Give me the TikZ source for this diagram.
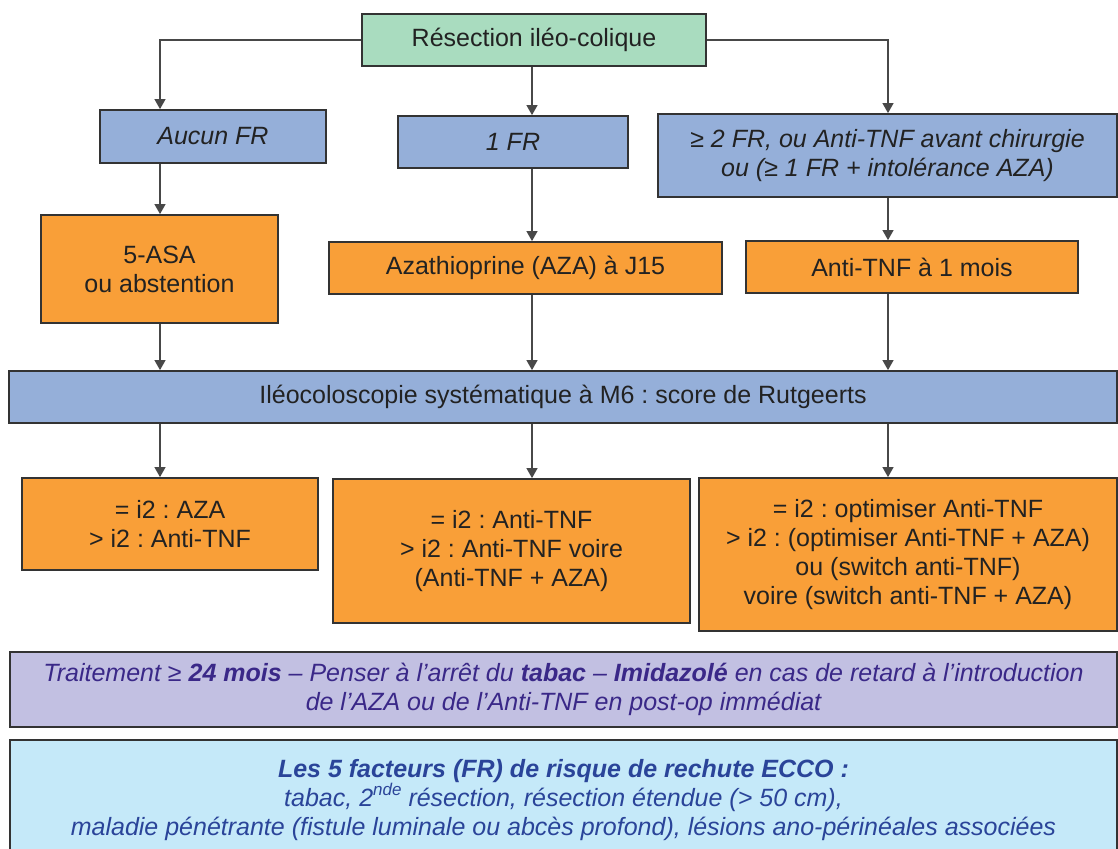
\documentclass[tikz,border=0pt]{standalone}
\usepackage{fontspec}
\setmainfont{Liberation Sans}
\usetikzlibrary{arrows.meta,positioning}
\frenchspacing

\definecolor{vert}{HTML}{A9DCBF}
\definecolor{bleu}{HTML}{95AFD9}
\definecolor{orangebox}{HTML}{F99F38}
\definecolor{violet}{HTML}{C2C0E2}
\definecolor{ciel}{HTML}{C5E9F9}
\definecolor{trait}{HTML}{333333}
\definecolor{gris}{HTML}{484848}
\definecolor{texte}{HTML}{222222}
\definecolor{textviolet}{HTML}{3A2888}
\definecolor{textbleu}{HTML}{2A4499}

\newcommand{\expo}[1]{\raisebox{0.45em}{\fontsize{17}{17}\selectfont #1}}

\tikzset{
  box/.style={draw=trait, line width=1.8pt, inner sep=0pt, align=center,
    text=texte, font=\fontsize{25}{29}\selectfont},
  fleche/.style={draw=gris, line width=1.1pt, -{Triangle[width=11pt,length=10pt]}},
}

\begin{document}
\begin{tikzpicture}[x=1pt,y=-1pt]
  \useasboundingbox (0,0) rectangle (1118,848);
% first row
  \node[box, fill=vert, minimum width=344, minimum height=52] (resection) at (534,40) {Résection iléo-colique};
  \node[box, fill=bleu, minimum width=226, minimum height=53] (aucun) at (213,136.5) {\itshape Aucun FR};
  \node[box, fill=bleu, minimum width=230, minimum height=52] (unfr) at (513,142) {\itshape 1 FR};
  \node[box, fill=bleu, minimum width=459, minimum height=83] (deuxfr) at (887.5,155.5)
    {\itshape ≥ 2 FR, ou Anti-TNF avant chirurgie\\\itshape ou (≥ 1 FR + intolérance AZA)};
% treatments
  \node[box, fill=orangebox, minimum width=237, minimum height=108] (asa) at (159.5,269) {5-ASA\\ou abstention};
  \node[box, fill=orangebox, minimum width=393, minimum height=52] (aza) at (525.5,268) {Azathioprine (AZA) à J15};
  \node[box, fill=orangebox, minimum width=332, minimum height=52] (tnf) at (912,267) {Anti-TNF à 1 mois};
% endoscopy
  \node[box, fill=bleu, minimum width=1108, minimum height=52] (ileo) at (563,397)
    {Iléocoloscopie systématique à M6 : score de Rutgeerts};
  \node[box, fill=orangebox, minimum width=296, minimum height=92] (resa) at (170,524)
    {= i2 : AZA\\> i2 : Anti-TNF};
  \node[box, fill=orangebox, minimum width=357, minimum height=144] (resb) at (511.5,551)
    {= i2 : Anti-TNF\\> i2 : Anti-TNF voire\\(Anti-TNF + AZA)};
  \node[box, fill=orangebox, minimum width=418, minimum height=153] (resc) at (908,554.5)
    {= i2 : optimiser Anti-TNF\\> i2 : (optimiser Anti-TNF + AZA)\\ou (switch anti-TNF)\\voire (switch anti-TNF + AZA)};
% notes
  \node[box, fill=violet, text=textviolet, minimum width=1107, minimum height=75] (duree) at (563.5,689.5)
    {\itshape Traitement ≥ {\bfseries 24 mois} – Penser à l’arrêt du {\bfseries tabac} – {\bfseries Imidazolé} en cas de retard à l’introduction\\
     \itshape de l’AZA ou de l’Anti-TNF en post-op immédiat};
  \node[box, fill=ciel, text=textbleu, minimum width=1107, minimum height=120] (facteurs) at (563.5,800)
    {\bfseries\itshape Les 5 facteurs (FR) de risque de rechute ECCO :\\
     \itshape tabac, 2\expo{nde} résection, résection étendue (> 50 cm),\\
     \itshape maladie pénétrante (fistule luminale ou abcès profond), lésions ano-périnéales associées};
% connectors
  \coordinate (gauche) at (160,0);
  \coordinate (milieu) at (532,0);
  \coordinate (droite) at (888,0);
  \draw[fleche] (resection.west) -| (aucun.north -| gauche);
  \draw[fleche] (resection.south -| milieu) -- (unfr.north -| milieu);
  \draw[fleche] (resection.east) -| (deuxfr.north -| droite);
  \draw[fleche] (aucun.south -| gauche) -- (asa.north -| gauche);
  \draw[fleche] (unfr.south -| milieu) -- (aza.north -| milieu);
  \draw[fleche] (deuxfr.south -| droite) -- (tnf.north -| droite);
  \draw[fleche] (asa.south -| gauche) -- (ileo.north -| gauche);
  \draw[fleche] (aza.south -| milieu) -- (ileo.north -| milieu);
  \draw[fleche] (tnf.south -| droite) -- (ileo.north -| droite);
  \draw[fleche] (ileo.south -| gauche) -- (resa.north -| gauche);
  \draw[fleche] (ileo.south -| milieu) -- (resb.north -| milieu);
  \draw[fleche] (ileo.south -| droite) -- (resc.north -| droite);
\end{tikzpicture}
\end{document}
